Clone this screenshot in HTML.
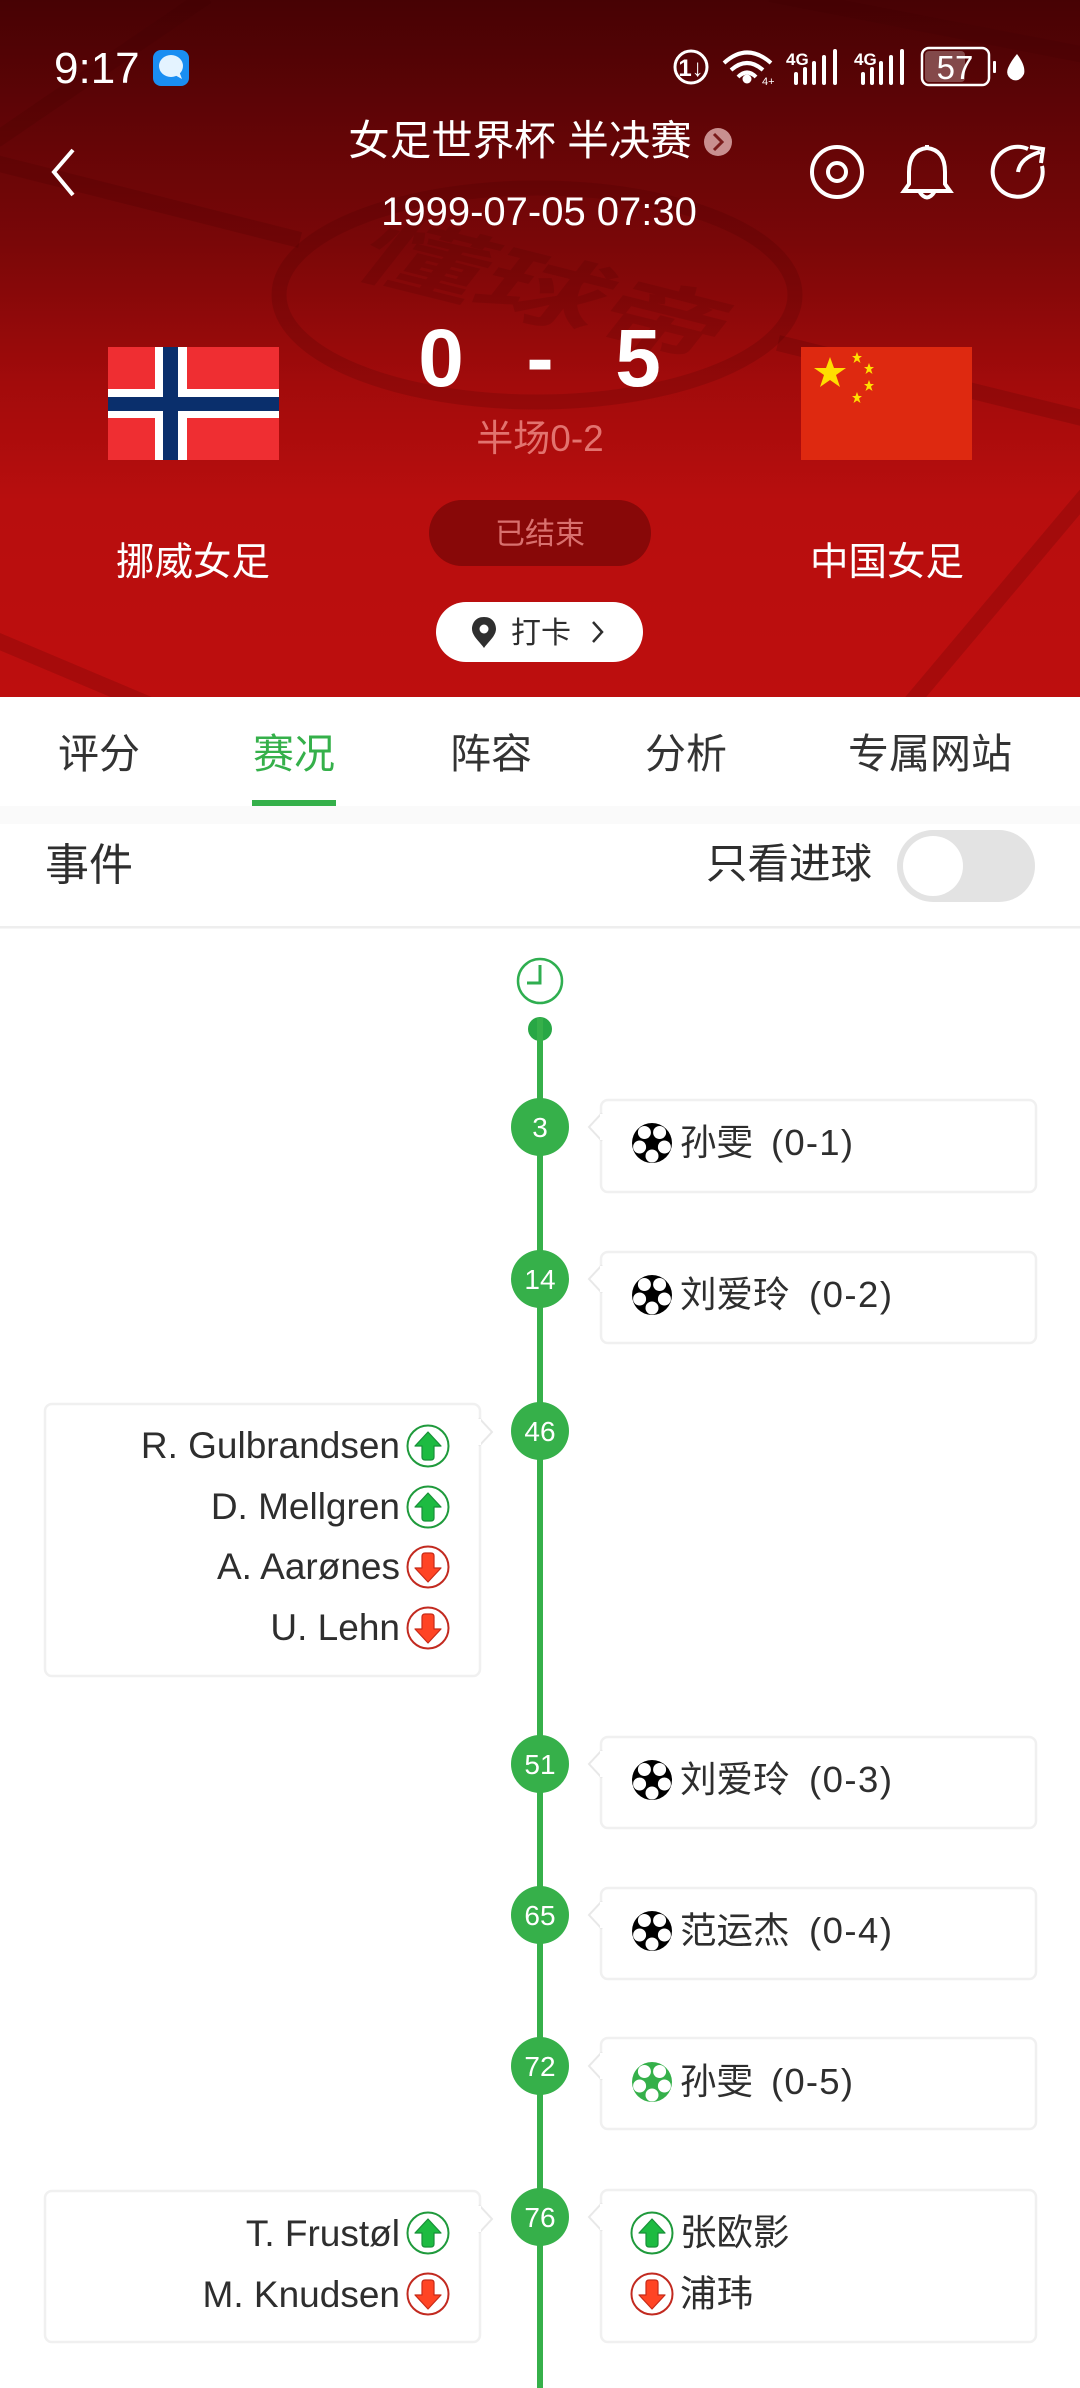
<!DOCTYPE html>
<html lang="zh">
<head>
<meta charset="utf-8">
<title>女足世界杯 半决赛</title>
<style>
html,body{margin:0;padding:0;background:#fff;width:1080px;height:2388px;overflow:hidden}
svg{display:block}
text{font-family:"Liberation Sans","Noto Sans CJK SC",sans-serif}
.dk{fill:#2e2e2e}
.ev{font-size:36.5px;fill:#2e2e2e}
.lt{font-size:37px;fill:#2e2e2e;text-anchor:end}
.mn{font-size:28px;fill:#fff;text-anchor:middle}
.card{fill:#fff;stroke:#f0f0f0;stroke-width:2.5}
.tip{fill:#fff;stroke:#e8e8e8;stroke-width:2}
.tab{font-size:41px;fill:#333}
</style>
</head>
<body>
<svg xmlns="http://www.w3.org/2000/svg" width="1080" height="2388" viewBox="0 0 1080 2388">
<defs>
<linearGradient id="hg" x1="0" y1="0" x2="0" y2="1">
<stop offset="0" stop-color="#470204"/>
<stop offset=".35" stop-color="#7a0708"/>
<stop offset=".55" stop-color="#a20b0b"/>
<stop offset=".72" stop-color="#b80e0e"/>
<stop offset="1" stop-color="#bd0e0e"/>
</linearGradient>
<clipPath id="hc"><rect width="1080" height="697"/></clipPath>
<g id="ball">
<circle r="20" fill="#000"/>
<circle cx="0" cy="13" r="6.500" fill="#fff"/>
<circle cx="-12.400" cy="4" r="6.500" fill="#fff"/>
<circle cx="12.400" cy="4" r="6.500" fill="#fff"/>
<circle cx="-7.600" cy="-10.500" r="6.500" fill="#fff"/>
<circle cx="7.600" cy="-10.500" r="6.500" fill="#fff"/>
</g>
<g id="gball">
<circle r="20" fill="#35b04a"/>
<circle cx="0" cy="13" r="6.500" fill="#fff"/>
<circle cx="-12.400" cy="4" r="6.500" fill="#fff"/>
<circle cx="12.400" cy="4" r="6.500" fill="#fff"/>
<circle cx="-7.600" cy="-10.500" r="6.500" fill="#fff"/>
<circle cx="7.600" cy="-10.500" r="6.500" fill="#fff"/>
</g>
<g id="up">
<circle r="20.500" fill="#fff" stroke="#1f9a3c" stroke-width="2"/>
<path d="M0 -14 L13 0 L6 0 L6 11 Q6 14 3 14 L-3 14 Q-6 14 -6 11 L-6 0 L-13 0 Z" fill="#1dbb41" stroke="#179038" stroke-width="1.200" stroke-linejoin="round"/>
</g>
<g id="down">
<circle r="20.500" fill="#fff" stroke="#c22a20" stroke-width="2"/>
<path d="M0 15 L13 1 L6 1 L6 -11 Q6 -14 3 -14 L-3 -14 Q-6 -14 -6 -11 L-6 1 L-13 1 Z" fill="#ff4424" stroke="#c82a18" stroke-width="1.200" stroke-linejoin="round"/>
</g>
</defs>

<!-- Header -->
<rect width="1080" height="697" fill="url(#hg)"/>
<g clip-path="url(#hc)" fill="none" stroke="#3a0000" stroke-opacity=".17" stroke-width="16">
<path d="M207 -4 L-4 140"/>
<path d="M-4 163 L300 240"/>
<path d="M770 -6 L1090 56"/>
<path d="M778 343 L1090 420"/>
<path d="M-4 640 L150 705"/>
<path d="M1090 490 L909 705"/>
<ellipse cx="537" cy="295" rx="258" ry="107" stroke-width="15"/>
</g>
<text transform="translate(526,316) rotate(14) skewX(-24) scale(1.1,.72)" text-anchor="middle" font-size="112" font-weight="700" fill="#3a0000" fill-opacity=".14">懂球帝</text>

<!-- Status bar -->
<text x="54" y="83" font-size="44" fill="#fff">9:17</text>
<rect x="153" y="50" width="36" height="36" rx="8" fill="#1a8ef2"/>
<ellipse cx="171" cy="66" rx="12" ry="11" fill="#e4f3ff"/>
<path d="M173 74 L182 79 L179 71Z" fill="#e4f3ff"/>
<g fill="none" stroke="#fff">
<circle cx="691" cy="67" r="16" stroke-width="3"/>
<path d="M724 63 Q747 42 771 63 M731 70 Q747 56 763 70 M738 77 Q747 68 756 77" stroke-width="4"/>
<rect x="922" y="48" width="67" height="37" rx="7" stroke-width="2.500"/>
</g>
<text x="691" y="76" font-size="24" font-weight="700" fill="#fff" text-anchor="middle">1↓</text>
<circle cx="747" cy="79" r="4.500" fill="#fff"/>
<text x="762" y="85" font-size="11" fill="#fff">4+</text>
<text x="786" y="65" font-size="17" font-weight="700" fill="#fff">4G</text>
<g fill="#fff">
<rect x="794" y="72" width="4" height="13" rx="2"/><rect x="803" y="67" width="4" height="18" rx="2"/><rect x="812" y="61" width="4" height="24" rx="2"/><rect x="822" y="55" width="4" height="30" rx="2"/><rect x="833" y="49" width="4" height="36" rx="2"/>
</g>
<text x="854" y="65" font-size="17" font-weight="700" fill="#fff">4G</text>
<g fill="#fff">
<rect x="861" y="72" width="4" height="13" rx="2"/><rect x="870" y="67" width="4" height="18" rx="2"/><rect x="879" y="61" width="4" height="24" rx="2"/><rect x="889" y="55" width="4" height="30" rx="2"/><rect x="900" y="49" width="4" height="36" rx="2"/>
</g>
<rect x="925" y="51" width="40" height="31" rx="4" fill="#fff" fill-opacity=".28"/>
<text x="955" y="79" font-size="33" fill="#fff" text-anchor="middle">57</text>
<rect x="993" y="61" width="3" height="12" rx="1" fill="#fff"/>
<path d="M1017 54 Q1026 66 1024 74 Q1020 82 1013 80 Q1005 76 1008 68 Q1011 61 1017 54Z" fill="#fff"/>

<!-- Title -->
<text x="520" y="155" font-size="41.500" fill="#fff" text-anchor="middle">女足世界杯 半决赛</text>
<circle cx="718" cy="142" r="14" fill="#c98f8f"/>
<path d="M714 134 L722 142 L714 150" fill="none" stroke="#7a1b1b" stroke-width="3"/>
<text x="539" y="225" font-size="40" fill="#fff" text-anchor="middle">1999-07-05 07:30</text>
<path d="M73 150 L54 172 L73 195" fill="none" stroke="#fff" stroke-width="4"/>
<g fill="none" stroke="#fff" stroke-width="4">
<circle cx="837" cy="172" r="25"/>
<circle cx="837" cy="172" r="9"/>
<path d="M927 148 Q909 150 909 172 L909 184 L904 191 L950 191 L945 184 L945 172 Q945 150 927 148Z M927 148 L927 145"/>
<path d="M919 191 Q927 204 935 191"/>
<path d="M1028 149 A25 25 0 1 0 1042 166"/>
<path d="M1018 172 Q1020 158 1040 152 M1030 147 L1043 149 L1041 163"/>
</g>

<!-- Flags -->
<rect x="108" y="347" width="171" height="113" fill="#ef2e32"/>
<rect x="155" y="347" width="32" height="113" fill="#fff"/>
<rect x="108" y="389" width="171" height="29" fill="#fff"/>
<rect x="163" y="347" width="15" height="113" fill="#0a2f6c"/>
<rect x="108" y="397" width="171" height="14" fill="#0a2f6c"/>
<rect x="801" y="347" width="171" height="113" fill="#de2910"/>
<g fill="#ffde00">
<polygon points="830,357 834,368 846,368 836,375 840,387 830,380 820,387 824,375 814,368 826,368"/>
<polygon points="857,352 858.500,356 862,356 859,358.500 860.500,363 857,360.500 853.500,363 855,358.500 852,356 855.500,356"/>
<polygon points="869,363 870.500,367 874,367 871,369.500 872.500,374 869,371.500 865.500,374 867,369.500 864,367 867.500,367"/>
<polygon points="869,380 870.500,384 874,384 871,386.500 872.500,391 869,388.500 865.500,391 867,386.500 864,384 867.500,384"/>
<polygon points="857,392 858.500,396 862,396 859,398.500 860.500,403 857,400.500 853.500,403 855,398.500 852,396 855.500,396"/>
</g>

<!-- Score -->
<g font-size="82" font-weight="700" fill="#fff">
<text x="441" y="386" text-anchor="middle">0</text>
<text x="540" y="386" text-anchor="middle">-</text>
<text x="638" y="386" text-anchor="middle">5</text>
</g>
<text x="540" y="451" font-size="37" fill="#e2736f" text-anchor="middle">半场0-2</text>
<rect x="429" y="500" width="222" height="66" rx="33" fill="#880808"/>
<text x="540" y="544" font-size="30" fill="#d9706e" text-anchor="middle">已结束</text>
<text x="193" y="575" font-size="38.500" fill="#fff" text-anchor="middle">挪威女足</text>
<text x="887" y="575" font-size="38.500" fill="#fff" text-anchor="middle">中国女足</text>
<rect x="436" y="602" width="207" height="60" rx="30" fill="#fff"/>
<path d="M484 617 C475 617 472 624 472 629 C472 636 480 642 484 648 C488 642 496 636 496 629 C496 624 493 617 484 617Z" fill="#2f2f2f"/>
<circle cx="484" cy="629" r="4.500" fill="#fff"/>
<text x="511" y="643" font-size="30" fill="#2e2e2e">打卡</text>
<path d="M593 622 L602 632 L593 642" fill="none" stroke="#2e2e2e" stroke-width="2.500"/>

<!-- Tabs -->
<text class="tab" x="58" y="768">评分</text>
<text class="tab" x="253" y="768" style="fill:#35b04a">赛况</text>
<text class="tab" x="450" y="768">阵容</text>
<text class="tab" x="645" y="768">分析</text>
<text class="tab" x="848" y="768">专属网站</text>
<rect x="252" y="800" width="84" height="6" fill="#35b04a"/>
<rect y="806" width="1080" height="18" fill="#fafafa"/>

<!-- Events header -->
<text x="45" y="880" font-size="44" class="dk">事件</text>
<text x="706" y="878" font-size="41.500" class="dk">只看进球</text>
<rect x="897" y="830" width="138" height="72" rx="36" fill="#e3e3e3"/>
<circle cx="933" cy="866" r="30" fill="#fff"/>
<rect y="926" width="1080" height="2.500" fill="#eeeeee"/>

<!-- Timeline -->
<circle cx="540" cy="1029" r="12" fill="#28a745"/>
<rect x="537" y="1018" width="6" height="1370" fill="#36b04a"/>
<circle cx="540" cy="981" r="22" fill="#fff" stroke="#2fae50" stroke-width="2.500"/>
<path d="M540 965 L540 983 L527 983" fill="none" stroke="#2fae50" stroke-width="3"/>

<g fill="#36b04a">
<circle cx="540" cy="1127" r="29"/>
<circle cx="540" cy="1279" r="29"/>
<circle cx="540" cy="1431" r="29"/>
<circle cx="540" cy="1764" r="29"/>
<circle cx="540" cy="1915" r="29"/>
<circle cx="540" cy="2066" r="29"/>
<circle cx="540" cy="2217" r="29"/>
</g>
<text class="mn" x="540" y="1137">3</text>
<text class="mn" x="540" y="1289">14</text>
<text class="mn" x="540" y="1441">46</text>
<text class="mn" x="540" y="1774">51</text>
<text class="mn" x="540" y="1925">65</text>
<text class="mn" x="540" y="2076">72</text>
<text class="mn" x="540" y="2227">76</text>

<!-- Right cards -->
<rect class="card" x="601" y="1100" width="435" height="92" rx="7"/>
<path class="tip" d="M602 1113 L589 1127 L602 1141"/><rect x="600" y="1114" width="4" height="26" fill="#fff"/>
<use href="#ball" x="652" y="1143"/>
<text class="ev" x="680" y="1155">孙雯<tspan x="771" textLength="82">(0-1)</tspan></text>

<rect class="card" x="601" y="1252" width="435" height="91" rx="7"/>
<path class="tip" d="M602 1265 L589 1279 L602 1293"/><rect x="600" y="1266" width="4" height="26" fill="#fff"/>
<use href="#ball" x="652" y="1295"/>
<text class="ev" x="680" y="1307">刘爱玲<tspan x="809" textLength="83">(0-2)</tspan></text>

<rect class="card" x="601" y="1737" width="435" height="91" rx="7"/>
<path class="tip" d="M602 1750 L589 1764 L602 1778"/><rect x="600" y="1751" width="4" height="26" fill="#fff"/>
<use href="#ball" x="652" y="1780"/>
<text class="ev" x="680" y="1792">刘爱玲<tspan x="809" textLength="83">(0-3)</tspan></text>

<rect class="card" x="601" y="1888" width="435" height="91" rx="7"/>
<path class="tip" d="M602 1901 L589 1915 L602 1929"/><rect x="600" y="1902" width="4" height="26" fill="#fff"/>
<use href="#ball" x="652" y="1931"/>
<text class="ev" x="680" y="1943">范运杰<tspan x="809" textLength="83">(0-4)</tspan></text>

<rect class="card" x="601" y="2038" width="435" height="91" rx="7"/>
<path class="tip" d="M602 2052 L589 2066 L602 2080"/><rect x="600" y="2053" width="4" height="26" fill="#fff"/>
<use href="#gball" x="652" y="2082"/>
<text class="ev" x="680" y="2094">孙雯<tspan x="771" textLength="82">(0-5)</tspan></text>

<rect class="card" x="601" y="2190" width="435" height="152" rx="7"/>
<path class="tip" d="M602 2203 L589 2217 L602 2231"/><rect x="600" y="2204" width="4" height="26" fill="#fff"/>
<use href="#up" x="652" y="2233"/>
<text class="ev" x="680" y="2245">张欧影</text>
<use href="#down" x="652" y="2294"/>
<text class="ev" x="680" y="2306">浦玮</text>

<!-- Left cards -->
<rect class="card" x="45" y="1404" width="435" height="272" rx="7"/>
<path class="tip" d="M479 1418 L492 1432 L479 1446"/><rect x="477" y="1419" width="4" height="26" fill="#fff"/>
<text class="lt" x="400" y="1458">R. Gulbrandsen</text>
<use href="#up" x="428" y="1446"/>
<text class="lt" x="400" y="1519">D. Mellgren</text>
<use href="#up" x="428" y="1507"/>
<text class="lt" x="400" y="1579">A. Aarønes</text>
<use href="#down" x="428" y="1567"/>
<text class="lt" x="400" y="1640">U. Lehn</text>
<use href="#down" x="428" y="1628"/>

<rect class="card" x="45" y="2191" width="435" height="151" rx="7"/>
<path class="tip" d="M479 2205 L492 2219 L479 2233"/><rect x="477" y="2206" width="4" height="26" fill="#fff"/>
<text class="lt" x="400" y="2246">T. Frustøl</text>
<use href="#up" x="428" y="2233"/>
<text class="lt" x="400" y="2307">M. Knudsen</text>
<use href="#down" x="428" y="2294"/>
</svg>
</body>
</html>
